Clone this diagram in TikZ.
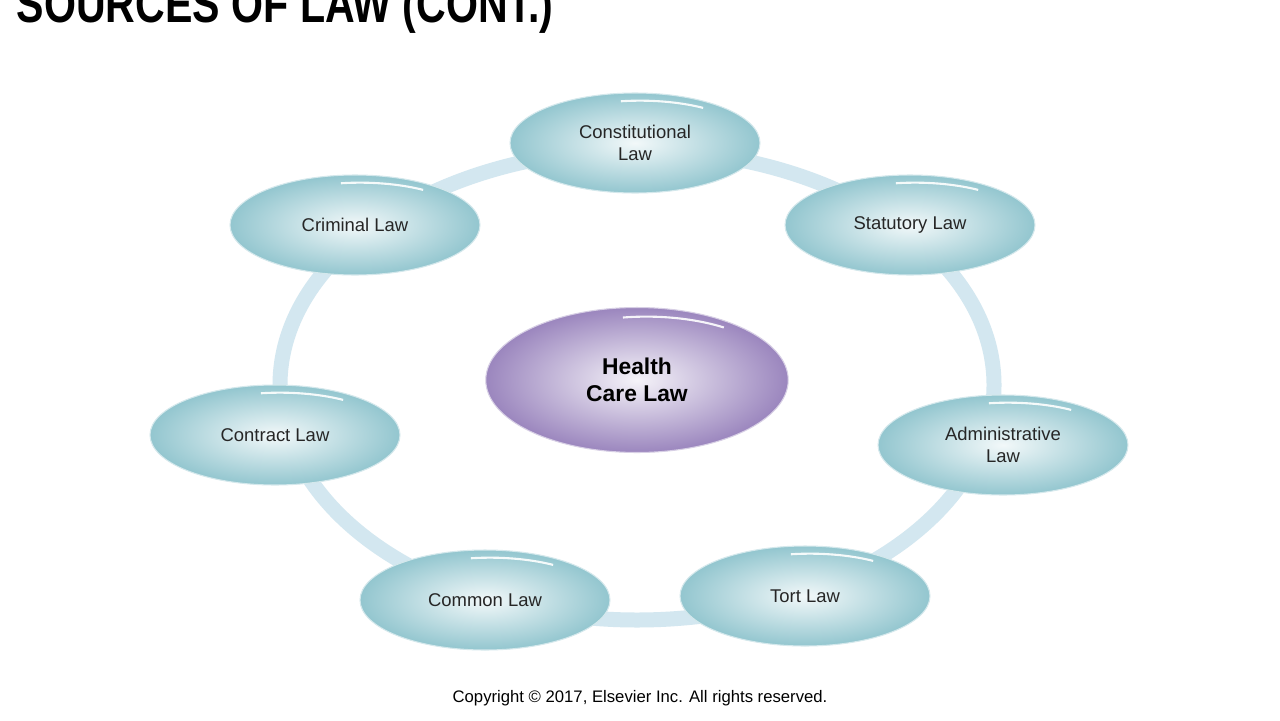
\documentclass[tikz,border=0pt]{standalone}
\usepackage{fontspec}
\setmainfont{Liberation Sans}
\usetikzlibrary{shapes.geometric}
\definecolor{teal1}{HTML}{93C6CF}
\definecolor{ring}{HTML}{D3E7F0}
\definecolor{purp}{HTML}{9B86BE}
\tikzset{
 law/.style={ellipse,minimum width=5cm,minimum height=2cm,inner sep=0pt,align=center,
   font=\fontsize{10.5}{12.5}\selectfont,text=black!85,
   shading=radial,inner color=white!88!teal1,outer color=teal1,
   draw=white!60!teal1,line width=0.6pt},
 hl/.style={white,line width=1.2pt,opacity=0.9}
}
\begin{document}
\begin{tikzpicture}[x=0.02cm,y=-0.02cm]
\useasboundingbox (0,0) rectangle (1280,720);
\fill[white] (0,0) rectangle (1280,720);
\node[anchor=base west,font=\bfseries\fontsize{30}{30}\selectfont,xscale=0.78] (title) at (12,22) {SOURCES OF LAW (CONT.)};
\draw[ring,line width=15*0.02cm] (637,385) ellipse (357 and 235);
\node[law] (con) at (635,143) {Constitutional\\Law};
\node[law] (cri) at (355,225) {Criminal Law};
\node[law] (sta) at (910,225) {Statutory Law};
\node[law] (ctr) at (275,435) {Contract Law};
\node[law] (adm) at (1003,445) {Administrative\\Law};
\node[law] (com) at (485,600) {Common Law};
\node[law] (tor) at (805,596) {Tort Law};
\node[ellipse,minimum width=6.05cm,minimum height=2.9cm,inner sep=0pt,align=center,
  font=\bfseries\fontsize{13}{15.5}\selectfont,shading=radial,inner color=white!90!purp,
  outer color=purp,draw=white!60!purp,line width=0.6pt] (hcl) at (637,380) {Health\\Care Law};
\foreach \n in {con,cri,sta,ctr,adm,com,tor}{
  \draw[hl] ([xshift=-8,yshift=-5]\n.north) arc[start angle=-100,end angle=-55,x radius=110,y radius=40];
}
\draw[hl] ([xshift=-8,yshift=-6]hcl.north) arc[start angle=-100,end angle=-55,x radius=135,y radius=60];
\node[font=\fontsize{9.5}{11}\selectfont] (copy) at (640,698) {Copyright © 2017, Elsevier Inc. All rights reserved.};
\end{tikzpicture}
\end{document}
